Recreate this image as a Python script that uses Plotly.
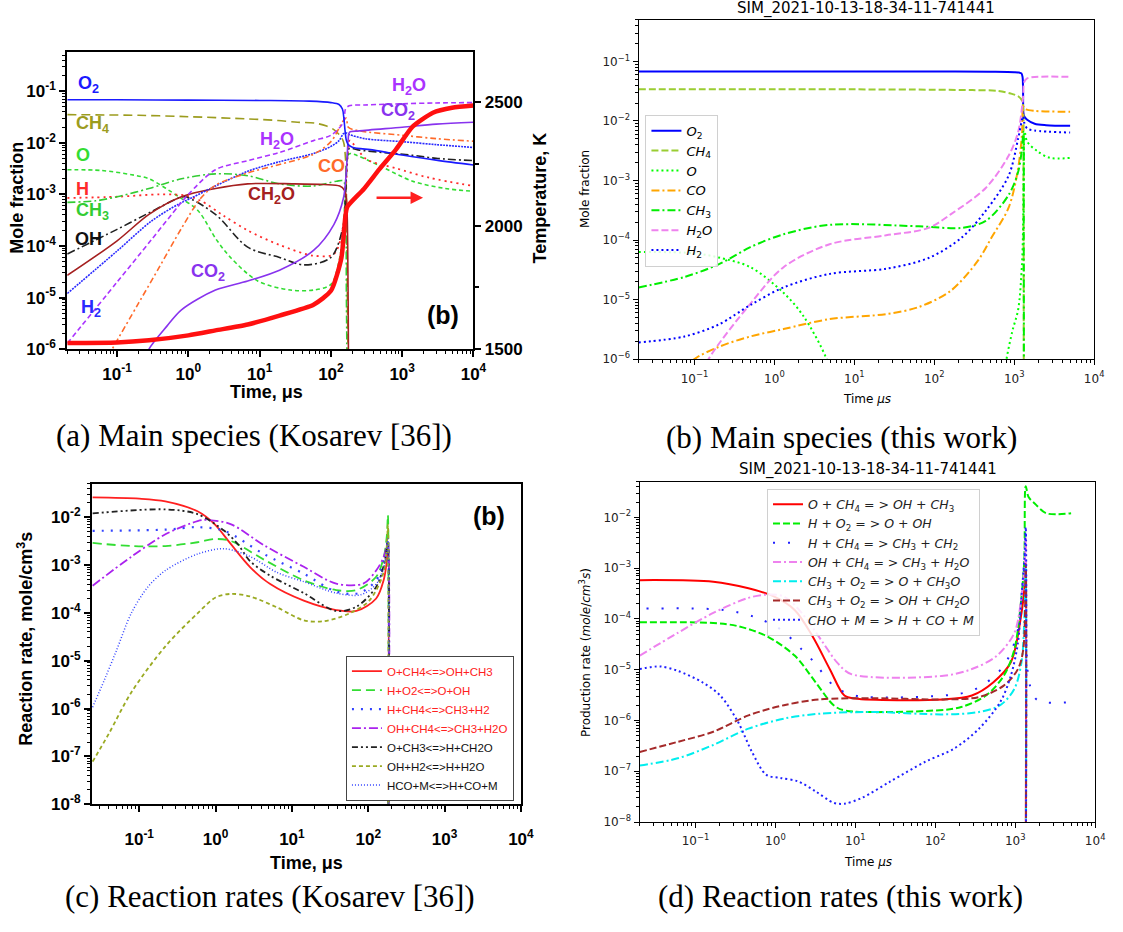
import plotly.graph_objects as go

W, H = 1123, 932

# ================= DATA =================
# ---- Panel (a): Kosarev, main species (time in us, mole fraction) ----
a_O2_t = [0.02, 0.1, 1, 10, 50, 100, 130, 145, 152, 158, 165, 175, 200, 400, 1000, 3000, 10000]
a_O2_y = [0.068, 0.068, 0.067, 0.066, 0.064, 0.06, 0.055, 0.045, 0.03, 0.017, 0.011, 0.0092, 0.0082, 0.0072, 0.0058, 0.0046, 0.0037]
a_CH4_t = [0.02, 0.2, 1, 6.8, 18, 34, 60, 87, 110, 133, 150, 160, 165, 170, 178]
a_CH4_y = [0.035, 0.034, 0.032, 0.029, 0.027, 0.025, 0.024, 0.021, 0.018, 0.014, 0.0105, 0.005, 1e-3, 1e-5, 1e-7]
a_O_t = [0.02, 0.06, 0.16, 0.28, 0.73, 1.37, 2.5, 3.9, 9.4, 27, 57, 100, 133, 150, 160, 168, 178, 190, 480, 1400, 4000, 10000]
a_O_y = [3e-3, 2.9e-3, 2.4e-3, 2e-3, 9e-4, 4.8e-4, 1.3e-4, 6e-5, 2.1e-5, 1.4e-5, 1.4e-5, 1.8e-5, 6e-5, 2.5e-4, 1.5e-3, 4.5e-3, 6e-3, 6.2e-3, 3.6e-3, 1.8e-3, 1.3e-3, 1.15e-3]
a_H_t = [0.02, 0.1, 0.4, 0.9, 1.5, 3, 6.8, 19, 57, 110, 150, 165, 175, 183, 316, 820, 2400, 10000]
a_H_y = [8.5e-4, 9e-4, 1e-3, 9.5e-4, 7.5e-4, 4e-4, 2e-4, 1.05e-4, 6.5e-5, 7e-5, 2.5e-4, 2e-3, 8e-3, 0.011, 4.8e-3, 3.2e-3, 2.1e-3, 1.45e-3]
a_CH3_t = [0.02, 0.05, 0.1, 0.28, 0.8, 2.4, 6.8, 19, 57, 120, 150, 160, 165, 170]
a_CH3_y = [7e-4, 7.5e-4, 9e-4, 1.3e-3, 2e-3, 2.5e-3, 2.3e-3, 1.6e-3, 1.45e-3, 1.8e-3, 1.8e-3, 8e-4, 1e-5, 1e-7]
a_OH_t = [0.02, 0.1, 0.3, 0.73, 0.9, 2.4, 6.8, 19, 42, 100, 150, 160, 170, 180, 250, 1400, 3000, 10000]
a_OH_y = [7e-5, 2.1e-4, 4.6e-4, 8.5e-4, 9e-4, 4.1e-4, 9.5e-5, 6e-5, 4.3e-5, 6e-5, 2.6e-4, 8.5e-4, 5e-3, 7.7e-3, 7.2e-3, 5.7e-3, 5e-3, 4.5e-3]
a_CH2O_t = [0.02, 0.1, 0.28, 0.8, 2.4, 6.8, 30, 80, 133, 155, 165, 172, 176, 180]
a_CH2O_y = [2.7e-5, 1.26e-4, 4.1e-4, 9e-4, 1.3e-3, 1.6e-3, 1.6e-3, 1.55e-3, 1.45e-3, 1.2e-3, 8e-4, 1e-4, 1e-6, 1e-8]
a_H2_t = [0.02, 0.1, 0.3, 0.73, 1.1, 2.4, 6.8, 19, 57, 100, 130, 150, 165, 180, 300, 1000, 3000, 10000]
a_H2_y = [1.2e-5, 8e-5, 3e-4, 6.5e-4, 8.5e-4, 1.45e-3, 2.8e-3, 4.3e-3, 6.2e-3, 8.5e-3, 0.011, 0.015, 0.0155, 0.0145, 0.012, 0.0105, 0.0092, 0.0081]
a_CO_t = [0.06, 0.085, 0.2, 0.4, 0.8, 1.5, 2.4, 6.8, 19, 57, 100, 150, 165, 175, 250, 1000, 3000, 10000]
a_CO_y = [4.3e-7, 1e-6, 7.8e-6, 4.1e-5, 2.2e-4, 8.5e-4, 1.5e-3, 2.6e-3, 3.8e-3, 6e-3, 0.0105, 0.027, 0.03, 0.02, 0.017, 0.014, 0.012, 0.0107]
a_H2O_t = [0.02, 0.1, 0.3, 0.73, 1, 2.4, 6.8, 19, 57, 100, 150, 160, 180, 300, 1000, 3000, 10000]
a_H2O_y = [1.3e-6, 2e-5, 1.3e-4, 6e-4, 1e-3, 3e-3, 4.5e-3, 6.5e-3, 0.011, 0.014, 0.025, 0.045, 0.052, 0.054, 0.057, 0.059, 0.06]
a_CO2_t = [0.25, 0.28, 0.5, 0.8, 2.4, 6.8, 19, 57, 110, 150, 165, 175, 182, 250, 1000, 3000, 10000]
a_CO2_y = [6e-7, 1e-6, 2.8e-6, 5.8e-6, 1.4e-5, 2.1e-5, 3.4e-5, 8.2e-5, 2.6e-4, 8.5e-4, 3e-3, 0.012, 0.016, 0.017, 0.02, 0.023, 0.025]
a_T_t = [0.02, 0.1, 0.28, 1, 2.4, 6.8, 19, 57, 100, 140, 160, 170, 290, 480, 820, 1400, 2700, 5000, 10000]
a_T_K = [1525, 1527, 1536, 1556, 1576, 1600, 1636, 1680, 1736, 1868, 2040, 2076, 2148, 2228, 2308, 2400, 2456, 2476, 2485]

# ---- Panel (b): this work, main species ----
b_O2_t = [0.02, 1, 10, 100, 500, 1000, 1150, 1230, 1270, 1290, 1300, 1330, 1450, 1800, 2500, 5000]
b_O2_y = [0.068, 0.068, 0.068, 0.068, 0.067, 0.066, 0.065, 0.063, 0.055, 0.03, 0.014, 0.012, 0.0105, 0.009, 0.0085, 0.0083]
b_CH4_t = [0.02, 1, 10, 100, 300, 630, 900, 1120, 1250, 1290, 1305, 1320]
b_CH4_y = [0.034, 0.034, 0.034, 0.0335, 0.033, 0.032, 0.029, 0.026, 0.022, 0.017, 1e-3, 1e-9]
b_O_t = [0.02, 0.1, 0.2, 0.5, 1.3, 2.3, 4.5, 6, None, 650, 800, 950, 1120, 1250, 1290, 1320, 1350, 1450, 1950, 2800, 5000]
b_O_y = [6.3e-5, 6e-5, 5.1e-5, 3.5e-5, 1.3e-5, 5.3e-6, 1e-6, 2.5e-7, None, 1.5e-7, 1e-6, 3e-6, 6.8e-6, 4e-5, 1.6e-4, 2e-3, 6.6e-3, 4.5e-3, 3.1e-3, 2.4e-3, 2.4e-3]
b_CO_t = [0.07, 0.1, 0.2, 0.5, 1.3, 4.9, 25, 64, 160, 355, 520, 850, 1100, 1250, 1290, 1350, 1800, 5000]
b_CO_y = [6e-7, 1e-6, 1.6e-6, 2.4e-6, 3.2e-6, 4.7e-6, 5.7e-6, 7.5e-6, 1.4e-5, 4.6e-5, 1.1e-4, 3.5e-4, 1.4e-3, 6e-3, 0.018, 0.016, 0.0148, 0.0143]
b_CH3_t = [0.02, 0.075, 0.2, 0.5, 1.3, 4.9, 64, 220, 440, 850, 1120, 1250, 1300, 1315, 1325]
b_CH3_y = [1.6e-5, 2.4e-5, 3.9e-5, 7.6e-5, 1.25e-4, 1.8e-4, 1.7e-4, 1.6e-4, 2.1e-4, 5.7e-4, 1.4e-3, 3.5e-3, 6.6e-3, 1e-4, 1e-9]
b_H2O_t = [0.1, 0.15, 0.5, 1.3, 4.9, 25, 85, 160, 440, 850, 1120, 1290, 1330, 1450, 5000]
b_H2O_y = [3e-7, 1e-6, 8.5e-6, 3.5e-5, 8.5e-5, 1.2e-4, 1.6e-4, 2.7e-4, 7.5e-4, 2.6e-3, 6.6e-3, 0.025, 0.045, 0.052, 0.055]
b_H2_t = [0.02, 0.075, 0.2, 0.5, 1.3, 4.9, 25, 85, 220, 440, 850, 1120, 1290, 1330, 1450, 1800, 5000]
b_H2_y = [1.9e-6, 2.4e-6, 3.8e-6, 8.1e-6, 1.6e-5, 2.7e-5, 3.3e-5, 5e-5, 1.1e-4, 3.1e-4, 1.2e-3, 5.1e-3, 0.012, 0.0095, 0.0075, 0.0069, 0.0064]

# ---- Panel (c): Kosarev, reaction rates (mole/cm3 s) ----
c_R1_t = [0.0245, 0.1, 0.22, 0.58, 0.97, 1.57, 2.85, 5.2, 14.3, 38, 70, 127, 160, 175, 181, 183]
c_R1_y = [0.026, 0.0245, 0.0215, 0.0133, 7.2e-3, 2.8e-3, 9e-4, 4e-4, 1.8e-4, 1.15e-4, 1.1e-4, 2e-4, 5e-4, 1.2e-3, 2.5e-3, 1e-9]
c_R2_t = [0.0245, 0.079, 0.22, 0.58, 0.97, 1.57, 4.3, 14.3, 38, 70, 127, 160, 175, 181, 183]
c_R2_y = [2.9e-3, 2.5e-3, 2.5e-3, 3e-3, 3.5e-3, 3.2e-3, 1.3e-3, 4.8e-4, 3e-4, 3e-4, 5.7e-4, 1.5e-3, 4e-3, 0.011, 1e-9]
c_R3_t = [0.0245, 0.22, 0.58, 1.3, 4.3, 14.3, 38, 76, 127, 160, 175, 181, 183]
c_R3_y = [5.2e-3, 5.5e-3, 6.2e-3, 5.2e-3, 1.7e-3, 6.6e-4, 2.8e-4, 2.6e-4, 4.8e-4, 1.2e-3, 2.5e-3, 3.5e-3, 1e-9]
c_R4_t = [0.0245, 0.079, 0.22, 0.58, 0.75, 1.57, 4.3, 14.3, 38, 86, 127, 160, 175, 181, 183]
c_R4_y = [3.7e-4, 1.5e-3, 4.4e-3, 8.3e-3, 8.8e-3, 7.2e-3, 2.6e-3, 9.2e-4, 4.1e-4, 4.1e-4, 7.7e-4, 1.5e-3, 2.5e-3, 3e-3, 1e-9]
c_R5_t = [0.0245, 0.22, 0.58, 1.3, 1.93, 2.85, 5.2, 14.3, 38, 70, 127, 160, 175, 181, 183]
c_R5_y = [0.012, 0.0146, 0.0116, 5.2e-3, 2.8e-3, 1.2e-3, 6e-4, 2.6e-4, 1.1e-4, 1.35e-4, 3.5e-4, 1e-3, 2.2e-3, 3e-3, 1e-9]
c_R6_t = [0.0245, 0.04, 0.079, 0.22, 0.58, 1.0, 1.6, 2.85, 6.4, 14.3, 26, 57, 103, 157, 175, 181, 183]
c_R6_y = [7.8e-8, 3e-7, 2.2e-6, 2e-5, 9.8e-5, 2.1e-4, 2.5e-4, 2.2e-4, 1.3e-4, 7e-5, 6.7e-5, 9.8e-5, 1.8e-4, 6.6e-4, 2.5e-3, 7e-3, 1e-9]
c_R7_t = [0.0245, 0.035, 0.05, 0.079, 0.13, 0.22, 0.58, 1.3, 2.85, 6.4, 14.3, 38, 80, 127, 160, 175, 181, 183]
c_R7_y = [1.07e-6, 4e-6, 1.6e-5, 1e-4, 3.5e-4, 7.7e-4, 1.7e-3, 2.2e-3, 1.5e-3, 7e-4, 4.5e-4, 2.6e-4, 2.4e-4, 4e-4, 9e-4, 2e-3, 3.5e-3, 1e-9]

# ---- Panel (d): this work, production rates ----
d_R1_t = [0.0201, 0.167, 0.46, 0.94, 1.74, 2.9, 4.83, 7.3, 9.9, 127, 287, 529, 881, 1197, 1300, 1340, 1353]
d_R1_y = [5.8e-4, 5.4e-4, 4e-4, 2.8e-4, 1.5e-4, 4.6e-5, 1e-5, 3.1e-6, 2.7e-6, 2.6e-6, 3.1e-6, 5.6e-6, 1.4e-5, 1.3e-4, 4e-4, 1e-3, 1e-9]
d_R2_t = [0.0201, 0.167, 0.34, 0.77, 1.74, 3.2, 5.35, 7.3, 103, 211, 431, 718, 975, 1197, 1300, 1353, 1469, 1800, 2445, 5000]
d_R2_y = [8.6e-5, 8.3e-5, 7.2e-5, 4.6e-5, 1.9e-5, 5.6e-6, 2e-6, 1.58e-6, 1.58e-6, 1.84e-6, 3.1e-6, 7.6e-6, 2.5e-5, 2.7e-4, 1.5e-3, 0.041, 0.025, 0.018, 0.012, 0.012]
d_R3_t = [0.0244, 0.226, 0.54, 1.16, 2.14, 3.06, 5.35, 9.9, 127, 246, 352, 529, 718, 881, 1081, 1325, 1353, 1469, 1800, 2207, 5000]
d_R3_y = [1.6e-4, 1.5e-4, 1.1e-4, 6.2e-5, 2.5e-5, 1.4e-5, 4.85e-6, 3.1e-6, 3.1e-6, 3.6e-6, 4.5e-6, 7.1e-6, 1.19e-5, 2.2e-5, 6.2e-5, 2e-3, 5.5e-3, 6.5e-6, 2.7e-6, 2.3e-6, 2.3e-6]
d_R4_t = [0.0201, 0.06, 0.167, 0.46, 0.77, 1.28, 2.14, 3.94, 5.93, 8.9, 127, 287, 586, 975, 1197, 1325, 1353, 1360]
d_R4_y = [1.9e-5, 5.3e-5, 1.31e-4, 2.6e-4, 3e-4, 2.76e-4, 1.31e-4, 3.4e-5, 1.38e-5, 8.2e-6, 7.6e-6, 1.03e-5, 1.87e-5, 5.3e-5, 2.76e-4, 1.5e-3, 4e-3, 1e-9]
d_R5_t = [0.0201, 0.06, 0.167, 0.46, 1.28, 3.56, 16.4, 127, 352, 649, 975, 1197, 1300, 1353, 1360]
d_R5_y = [1.3e-7, 1.8e-7, 3.3e-7, 6.9e-7, 1.09e-6, 1.36e-6, 1.47e-6, 1.32e-6, 1.47e-6, 2e-6, 4.2e-6, 1.4e-5, 1e-4, 1e-3, 1e-9]
d_R6_t = [0.0201, 0.06, 0.167, 0.46, 1.28, 3.56, 16.4, 127, 352, 718, 1081, 1260, 1353, 1360]
d_R6_y = [2.4e-7, 3.8e-7, 6e-7, 1.26e-6, 2e-6, 2.6e-6, 2.75e-6, 2.6e-6, 2.9e-6, 4.85e-6, 1.03e-5, 2.5e-5, 1.2e-3, 1e-9]
d_R7_t = [0.0201, 0.036, 0.06, 0.123, 0.204, 0.34, 0.51, 0.77, 1.16, 1.93, 3.2, 5.35, 7.3, 12.1, 27.4, 76, 172, 352, 649, 881, 1081, 1197, 1300, 1353, 1360]
d_R7_y = [1.03e-5, 1.16e-5, 9.5e-6, 5.6e-6, 3.1e-6, 9.4e-7, 2.4e-7, 8.5e-8, 7.4e-8, 6.3e-8, 4e-8, 2.4e-8, 2.3e-8, 3e-8, 6.3e-8, 1.56e-7, 2.8e-7, 6.9e-7, 2.3e-6, 7.6e-6, 3.4e-5, 2.8e-4, 1.5e-3, 6.4e-3, 1e-9]

# ---- labels ----
sim_title = "SIM_2021-10-13-18-34-11-741441"
captions = ["(a) Main species (Kosarev [36])", "(b) Main species (this work)",
            "(c) Reaction rates (Kosarev [36])", "(d) Reaction rates (this work)"]
c_names = ["O+CH4&lt;=&gt;OH+CH3", "H+O2&lt;=&gt;O+OH", "H+CH4&lt;=&gt;CH3+H2", "OH+CH4&lt;=&gt;CH3+H2O",
           "O+CH3&lt;=&gt;H+CH2O", "OH+H2&lt;=&gt;H+H2O", "HCO+M&lt;=&gt;H+CO+M"]
c_name_colors = ["#ff2020"] * 4 + ["#111111"] * 3
d_names = ["<i>O</i> + <i>CH</i><sub>4</sub> = &gt; <i>OH</i> + <i>CH</i><sub>3</sub>",
           "<i>H</i> + <i>O</i><sub>2</sub> = &gt; <i>O</i> + <i>OH</i>",
           "<i>H</i> + <i>CH</i><sub>4</sub> = &gt; <i>CH</i><sub>3</sub> + <i>CH</i><sub>2</sub>",
           "<i>OH</i> + <i>CH</i><sub>4</sub> = &gt; <i>CH</i><sub>3</sub> + <i>H</i><sub>2</sub><i>O</i>",
           "<i>CH</i><sub>3</sub> + <i>O</i><sub>2</sub> = &gt; <i>O</i> + <i>CH</i><sub>3</sub><i>O</i>",
           "<i>CH</i><sub>3</sub> + <i>O</i><sub>2</sub> = &gt; <i>OH</i> + <i>CH</i><sub>2</sub><i>O</i>",
           "<i>CHO</i> + <i>M</i> = &gt; <i>H</i> + <i>CO</i> + <i>M</i>"]
b_names = ["<i>O</i><sub>2</sub>", "<i>CH</i><sub>4</sub>", "<i>O</i>", "<i>CO</i>",
           "<i>CH</i><sub>3</sub>", "<i>H</i><sub>2</sub><i>O</i>", "<i>H</i><sub>2</sub>"]

# ================= FIGURE =================
fig = go.Figure()

def add(t, y, xa, ya, color, width, dash, name=None, legend=None, smooth=0.9):
    fig.add_trace(go.Scatter(
        x=t, y=y, xaxis=xa, yaxis=ya, mode="lines", name=name,
        line=dict(color=color, width=width, dash=dash, shape="spline", smoothing=smooth),
        showlegend=legend is not None, legend=legend if legend else "legend",
        connectgaps=False, hoverinfo="skip"))

# Panel (a)
add(a_CH4_t, a_CH4_y, "x", "y", "#9c9c1e", 1.6, "9px,5px")
add(a_O_t, a_O_y, "x", "y", "#33dd33", 1.6, "4px,3px")
add(a_H_t, a_H_y, "x", "y", "#ff2a2a", 1.8, "2px,4px")
add(a_CH3_t, a_CH3_y, "x", "y", "#33cc33", 1.6, "8px,3px,2px,3px")
add(a_OH_t, a_OH_y, "x", "y", "#222222", 1.6, "8px,3px,2px,3px")
add(a_CH2O_t, a_CH2O_y, "x", "y", "#a52020", 1.6, "solid")
add(a_H2_t, a_H2_y, "x", "y", "#2a2aff", 1.6, "2px,1px")
add(a_CO_t, a_CO_y, "x", "y", "#ff6a2a", 1.6, "6px,3px,2px,3px")
add(a_H2O_t, a_H2O_y, "x", "y", "#aa33ff", 1.6, "5px,3px")
add(a_CO2_t, a_CO2_y, "x", "y", "#8833ee", 1.6, "solid")
add(a_O2_t, a_O2_y, "x", "y", "#1a1aff", 1.6, "solid")
add(a_T_t, a_T_K, "x", "y5", "#ff1010", 4.5, "solid", smooth=0.6)

# Panel (b)
add(b_O2_t, b_O2_y, "x2", "y2", "#0000ff", 2, "solid", b_names[0], "legend")
add(b_CH4_t, b_CH4_y, "x2", "y2", "#9acd32", 2, "7px,3px", b_names[1], "legend")
add(b_O_t, b_O_y, "x2", "y2", "#00ff00", 2, "2px,3px", b_names[2], "legend")
add(b_CO_t, b_CO_y, "x2", "y2", "#ffa500", 2, "8px,3px,2px,3px", b_names[3], "legend")
add(b_CH3_t, b_CH3_y, "x2", "y2", "#00ee00", 2, "8px,3px,2px,3px", b_names[4], "legend")
add(b_H2O_t, b_H2O_y, "x2", "y2", "#ee82ee", 2, "7px,3px", b_names[5], "legend")
add(b_H2_t, b_H2_y, "x2", "y2", "#0000ff", 2, "2px,3px", b_names[6], "legend")

# Panel (c)
c_series = [(c_R1_t, c_R1_y, "#ff2020", "solid", 1.8), (c_R2_t, c_R2_y, "#33dd33", "9px,5px", 1.8),
            (c_R3_t, c_R3_y, "#3344ff", "2px,7px", 2.2), (c_R4_t, c_R4_y, "#aa22ee", "9px,3px,2px,3px", 1.8),
            (c_R5_t, c_R5_y, "#222222", "6px,3px,2px,3px,2px,3px", 1.8), (c_R6_t, c_R6_y, "#9aaa22", "4px,3px", 1.8),
            (c_R7_t, c_R7_y, "#3344ff", "1px,2px", 1.5)]
for (t, y, col, dash, w), nm, nc in zip(c_series, c_names, c_name_colors):
    add(t, y, "x3", "y3", col, w, dash, "<span style='color:%s'>%s</span>" % (nc, nm), "legend2")

# Panel (d)
d_series = [(d_R1_t, d_R1_y, "#ff0000", "solid"), (d_R2_t, d_R2_y, "#00ee00", "7px,3px"),
            (d_R3_t, d_R3_y, "#2020ff", "2px,13px"), (d_R4_t, d_R4_y, "#ee82ee", "8px,3px,2px,3px"),
            (d_R5_t, d_R5_y, "#00eeee", "8px,3px,2px,3px"), (d_R6_t, d_R6_y, "#a52a2a", "7px,3px"),
            (d_R7_t, d_R7_y, "#2020ff", "2px,3px")]
for (t, y, col, dash), nm in zip(d_series, d_names):
    add(t, y, "x4", "y4", col, 2, dash, nm, "legend3")

# ================= AXES =================
def dx(a, b):
    return [a / W, b / W]

def dy(top, bottom):
    return [1 - bottom / H, 1 - top / H]

def decade_ticks(lo, hi, minus):
    vals = [10.0 ** p for p in range(lo, hi + 1)]
    txt = ["10<sup>%s%d</sup>" % (minus if p < 0 else "", abs(p)) for p in range(lo, hi + 1)]
    minor = [k * 10.0 ** p for p in range(lo - 1, hi + 1) for k in range(2, 10)]
    return vals, txt, minor

kos_font = dict(family="Liberation Sans", size=17, color="black", weight="bold")
mpl_font = dict(family="DejaVu Sans", size=12, color="#222222")

def kos_log(domain, rng, anchor, lo, hi, standoff=0):
    v, t, m = decade_ticks(lo, hi, "-")
    return dict(type="log", domain=domain, range=rng, anchor=anchor, showline=True, linewidth=2,
                linecolor="black", mirror=True, ticks="outside", ticklen=6, tickwidth=1.5,
                tickcolor="black", tickmode="array", tickvals=v, ticktext=t, showgrid=False,
                zeroline=False, tickfont=kos_font, ticklabelstandoff=standoff,
                minor=dict(ticks="outside", ticklen=3, tickwidth=1, tickcolor="black",
                           tickmode="array", tickvals=m, showgrid=False))

def mpl_log(domain, rng, anchor, lo, hi, standoff=0):
    v, t, m = decade_ticks(lo, hi, "\u2212")
    return dict(type="log", domain=domain, range=rng, anchor=anchor, showline=True, linewidth=1,
                linecolor="black", mirror=True, ticks="outside", ticklen=5, tickwidth=1,
                tickcolor="black", tickmode="array", tickvals=v, ticktext=t, showgrid=False,
                zeroline=False, tickfont=mpl_font, ticklabelstandoff=standoff,
                minor=dict(ticks="outside", ticklen=3, tickwidth=0.8, tickcolor="black",
                           tickmode="array", tickvals=m, showgrid=False))

layout = dict(
    width=W, height=H, margin=dict(l=0, r=0, t=0, b=0), autosize=False,
    paper_bgcolor="white", plot_bgcolor="white",
    font=dict(family="DejaVu Sans", size=12, color="black"),
    xaxis=kos_log(dx(68, 479), [-1.7, 4.0], "y", -1, 4, 2),
    yaxis=kos_log(dy(53, 353), [-6, -0.25], "x", -6, -1),
    yaxis5=dict(overlaying="y", side="right", anchor="x", range=[1500, 2700], showline=True,
                linewidth=2, linecolor="black", ticks="outside", ticklen=6, tickwidth=1.5,
                tickcolor="black", tickmode="array", tickvals=[1500, 2000, 2500], showgrid=False,
                zeroline=False, tickfont=kos_font,
                minor=dict(ticks="outside", ticklen=4, tickcolor="black", tickmode="array",
                           tickvals=[1750, 2250], showgrid=False)),
    xaxis2=mpl_log(dx(646, 1107), [-1.7, 4.0], "y2", -1, 4, 3),
    yaxis2=mpl_log(dy(20, 363), [-6, -0.3], "x2", -6, -1),
    xaxis3=kos_log(dx(93, 527), [-1.62, 4.0], "y3", -1, 4, 12),
    yaxis3=kos_log(dy(489, 813), [-8, -1.3], "x3", -8, -2),
    xaxis4=mpl_log(dx(647, 1108), [-1.7, 4.0], "y4", -1, 4, 3),
    yaxis4=mpl_log(dy(487, 831), [-8, -1.3], "x4", -8, -2),
    legend=dict(x=653 / W, y=1 - 116 / H, xanchor="left", yanchor="top",
                font=dict(family="DejaVu Sans", size=13, color="black"),
                bgcolor="rgba(255,255,255,0.85)", bordercolor="#d0d0d0", borderwidth=1,
                itemwidth=30, tracegroupgap=0),
    legend2=dict(x=350 / W, y=1 - 736 / H, xanchor="left", yanchor="middle",
                 font=dict(family="Liberation Sans", size=11.5, color="black"),
                 bgcolor="white", bordercolor="#444444", borderwidth=1, itemwidth=30),
    legend3=dict(x=776 / W, y=1 - 494 / H, xanchor="left", yanchor="top",
                 font=dict(family="DejaVu Sans", size=12.5, color="#222222"),
                 bgcolor="rgba(255,255,255,0.85)", bordercolor="#d0d0d0", borderwidth=1,
                 itemwidth=30),
)
fig.update_layout(**layout)

# ================= ANNOTATIONS =================
ann = []

def txt(x, y, s, size=12, color="black", family="DejaVu Sans", weight="normal", angle=0,
        xanchor="center", yanchor="middle"):
    ann.append(dict(x=x / W, y=1 - y / H, xref="paper", yref="paper", text=s, showarrow=False,
                    textangle=angle, xanchor=xanchor, yanchor=yanchor,
                    font=dict(size=size, color=color, family=family, weight=weight)))

kb = dict(family="Liberation Sans", weight="bold")
# panel (a)
txt(17, 200, "Mole fraction", 18, **kb, angle=-90)
txt(270, 396, "Time, \u03bcs", 18, **kb)
txt(546, 200, "Temperature, K", 18, **kb, angle=-90)
txt(90, 85, "O<sub>2</sub>", 18, "#1a1aff", **kb)
txt(94, 126, "CH<sub>4</sub>", 18, "#9c9c1e", **kb)
txt(84, 157, "O", 18, "#33dd33", **kb)
txt(83, 191, "H", 18, "#ff2a2a", **kb)
txt(94, 214, "CH<sub>3</sub>", 18, "#33cc33", **kb)
txt(90, 242, "OH", 18, "#111111", **kb)
txt(92, 312, "H<sub>2</sub>", 18, "#2a2aff", **kb)
txt(210, 275, "CO<sub>2</sub>", 18, "#8833ee", **kb)
txt(275, 198, "CH<sub>2</sub>O", 18, "#a52020", **kb)
txt(335, 168, "CO", 18, "#ff6a2a", **kb)
txt(280, 142, "H<sub>2</sub>O", 18, "#aa33ff", **kb)
txt(414, 87, "H<sub>2</sub>O", 18, "#aa33ff", **kb)
txt(403, 113, "CO<sub>2</sub>", 18, "#8833ee", **kb)
txt(448, 318, "(b)", 25, **kb)
ann.append(dict(x=428 / W, y=1 - 200 / H, ax=-48, ay=0, xref="paper", yref="paper",
                axref="pixel", ayref="pixel", text="", showarrow=True, arrowhead=2, arrowsize=1,
                arrowwidth=2.5, arrowcolor="#ff2020"))
# panel (b)
txt(876, 9, sim_title, 15)
txt(592, 191, "Mole fraction", 12, angle=-90)
txt(877, 403, "Time <i>\u03bcs</i>", 12)
# panel (c)
txt(25, 646, "Reaction rate, mole/cm<sup>3</sup>s", 18, **kb, angle=-90)
txt(310, 872, "Time, \u03bcs", 18, **kb)
txt(495, 522, "(b)", 25, **kb)
# panel (d)
txt(878, 475, sim_title, 15)
txt(592, 660, "Production rate (<i>mole</i>/<i>cm</i><sup>3</sup><i>s</i>)", 12, angle=-90)
txt(878, 871, "Time <i>\u03bcs</i>", 12)
# captions
cap = dict(family="Liberation Serif")
txt(257, 440, captions[0], 31, **cap)
txt(851, 442, captions[1], 31, **cap)
txt(273, 906, captions[2], 31, **cap)
txt(850, 906, captions[3], 31, **cap)

fig.update_layout(annotations=ann)
fig.write_html("out.html")
